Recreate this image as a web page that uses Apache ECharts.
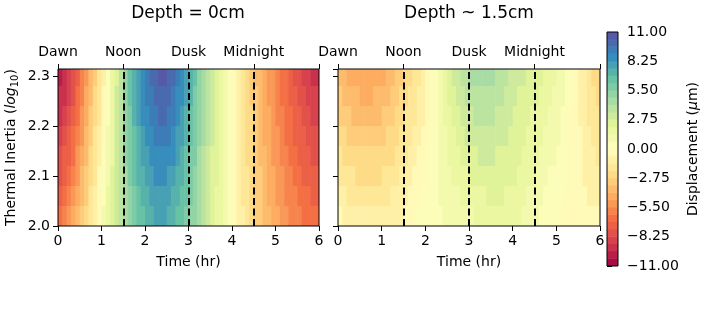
<!DOCTYPE html>
<html><head><meta charset="utf-8">
<script src="https://cdn.jsdelivr.net/npm/echarts@6/dist/echarts.min.js"></script>
<style>html,body{margin:0;padding:0;background:#fff}#c{width:717px;height:314px}</style>
</head><body><div id="c"></div>
<script>
// ---- data ----
const timeHr = [0.05,0.15,0.25,0.35,0.45,0.55,0.65,0.75,0.85,0.95,1.05,1.15,1.25,1.35,1.45,1.55,1.65,1.75,1.85,1.95,
  2.05,2.15,2.25,2.35,2.45,2.55,2.65,2.75,2.85,2.95,3.05,3.15,3.25,3.35,3.45,3.55,3.65,3.75,3.85,3.95,
  4.05,4.15,4.25,4.35,4.45,4.55,4.65,4.75,4.85,4.95,5.05,5.15,5.25,5.35,5.45,5.55,5.65,5.75,5.85,5.95];
const inertiaLog = [2.02,2.06,2.10,2.14,2.18,2.22,2.26,2.30];

// Depth = 0cm, displacement (um), one array per thermal-inertia row
const depth0_I202 = [-6.6,-6.0,-5.5,-4.8,-4.1,-3.3,-2.5,-1.7,-0.9,-0.1,0.8,1.6,2.4,3.2,3.9,4.6,5.3,5.9,6.4,6.8,7.1,7.4,7.6,7.6,7.6,7.4,7.1,6.8,6.4,5.9,5.4,4.9,4.3,3.8,3.2,2.6,2.0,1.4,0.8,0.2,-0.3,-0.8,-1.3,-1.8,-2.3,-2.8,-3.2,-3.7,-4.1,-4.5,-4.8,-5.1,-5.4,-5.7,-5.9,-6.1,-6.3,-6.5,-6.6,-6.7];
const depth0_I206 = [-7.1,-6.5,-6.0,-5.3,-4.5,-3.7,-2.9,-2.0,-1.2,-0.4,0.6,1.4,2.3,3.1,3.9,4.7,5.4,6.1,6.6,7.1,7.4,7.8,8.0,8.0,8.0,7.8,7.5,7.2,6.7,6.2,5.6,5.1,4.5,3.9,3.3,2.6,2.0,1.4,0.8,0.2,-0.3,-0.9,-1.4,-1.9,-2.4,-2.9,-3.3,-3.8,-4.2,-4.6,-5.0,-5.3,-5.6,-5.9,-6.1,-6.4,-6.6,-6.8,-6.9,-7.1];
const depth0_I210 = [-7.6,-7.0,-6.5,-5.7,-5.0,-4.1,-3.2,-2.4,-1.5,-0.6,0.3,1.2,2.1,3.1,3.9,4.8,5.6,6.3,6.9,7.4,7.8,8.1,8.4,8.4,8.4,8.2,7.9,7.5,7.1,6.5,5.9,5.3,4.6,4.0,3.3,2.7,2.1,1.4,0.8,0.2,-0.4,-0.9,-1.4,-2.0,-2.5,-3.0,-3.4,-4.0,-4.4,-4.8,-5.1,-5.5,-5.8,-6.1,-6.4,-6.6,-6.9,-7.1,-7.3,-7.4];
const depth0_I214 = [-8.1,-7.5,-7.0,-6.2,-5.4,-4.5,-3.6,-2.7,-1.8,-0.9,0.1,1.0,2.0,3.0,3.9,4.9,5.7,6.5,7.1,7.7,8.1,8.5,8.8,8.8,8.8,8.6,8.3,7.9,7.4,6.8,6.1,5.5,4.8,4.1,3.4,2.7,2.1,1.4,0.8,0.2,-0.4,-1.0,-1.5,-2.1,-2.6,-3.1,-3.5,-4.1,-4.5,-4.9,-5.3,-5.7,-6.0,-6.3,-6.6,-6.9,-7.2,-7.4,-7.6,-7.8];
const depth0_I218 = [-8.5,-8.0,-7.4,-6.7,-5.8,-4.9,-3.9,-3.0,-2.0,-1.1,-0.1,0.8,1.8,2.9,4.0,4.9,5.9,6.7,7.4,8.0,8.4,8.8,9.1,9.3,9.3,9.0,8.6,8.2,7.7,7.0,6.4,5.7,4.9,4.3,3.5,2.8,2.1,1.5,0.8,0.1,-0.5,-1.0,-1.6,-2.1,-2.6,-3.2,-3.7,-4.2,-4.7,-5.1,-5.5,-5.8,-6.2,-6.6,-6.9,-7.2,-7.4,-7.8,-8.0,-8.2];
const depth0_I222 = [-9.0,-8.5,-7.9,-7.2,-6.2,-5.3,-4.3,-3.3,-2.3,-1.4,-0.3,0.6,1.7,2.8,4.0,5.0,6.0,6.9,7.6,8.3,8.7,9.2,9.5,9.7,9.7,9.4,9.0,8.6,8.0,7.3,6.6,5.9,5.1,4.4,3.6,2.8,2.1,1.5,0.8,0.1,-0.5,-1.1,-1.7,-2.2,-2.7,-3.3,-3.8,-4.3,-4.8,-5.2,-5.7,-6.0,-6.4,-6.8,-7.1,-7.5,-7.7,-8.1,-8.3,-8.6];
const depth0_I226 = [-9.5,-9.0,-8.4,-7.6,-6.7,-5.7,-4.6,-3.7,-2.6,-1.6,-0.6,0.4,1.5,2.8,4.0,5.1,6.2,7.1,7.9,8.6,9.1,9.5,9.9,10.1,10.1,9.8,9.4,8.9,8.4,7.6,6.9,6.1,5.2,4.5,3.6,2.9,2.2,1.5,0.8,0.1,-0.6,-1.1,-1.7,-2.3,-2.8,-3.4,-3.9,-4.5,-5.0,-5.4,-5.8,-6.2,-6.6,-7.0,-7.4,-7.7,-8.0,-8.4,-8.7,-8.9];
const depth0_I230 = [-10.0,-9.5,-8.9,-8.1,-7.1,-6.1,-5.0,-4.0,-2.9,-1.9,-0.8,0.2,1.4,2.7,4.0,5.2,6.3,7.3,8.1,8.9,9.4,9.9,10.3,10.5,10.5,10.2,9.8,9.3,8.7,7.9,7.1,6.3,5.4,4.6,3.7,2.9,2.2,1.5,0.8,0.1,-0.6,-1.2,-1.8,-2.4,-2.9,-3.5,-4.0,-4.6,-5.1,-5.5,-6.0,-6.4,-6.8,-7.2,-7.6,-8.0,-8.3,-8.7,-9.0,-9.3];

// Depth ~ 1.5cm
const depth15_I202 = [-0.6,-0.8,-0.9,-1.0,-1.1,-1.2,-1.2,-1.2,-1.2,-1.2,-1.1,-1.0,-0.9,-0.8,-0.7,-0.5,-0.3,-0.1,0.0,0.2,0.3,0.4,0.5,0.6,0.7,0.8,0.9,1.0,1.1,1.2,1.3,1.4,1.5,1.6,1.7,1.7,1.8,1.8,1.8,1.8,1.7,1.5,1.3,1.1,0.9,0.7,0.5,0.4,0.2,0.1,0.0,-0.1,-0.2,-0.2,-0.3,-0.4,-0.4,-0.5,-0.6,-0.6];
const depth15_I206 = [-1.1,-1.3,-1.4,-1.5,-1.6,-1.7,-1.7,-1.7,-1.7,-1.7,-1.5,-1.4,-1.3,-1.2,-1.0,-0.8,-0.6,-0.4,-0.2,0.0,0.2,0.4,0.5,0.7,0.9,1.0,1.2,1.3,1.5,1.6,1.7,1.8,1.9,2.0,2.1,2.1,2.1,2.1,2.0,2.0,1.9,1.7,1.5,1.3,1.1,0.9,0.7,0.6,0.4,0.3,0.2,0.0,-0.1,-0.2,-0.3,-0.5,-0.5,-0.7,-0.8,-0.9];
const depth15_I210 = [-1.5,-1.7,-1.9,-2.0,-2.1,-2.2,-2.2,-2.2,-2.2,-2.1,-2.0,-1.8,-1.7,-1.5,-1.3,-1.1,-0.8,-0.6,-0.4,-0.1,0.1,0.3,0.5,0.8,1.0,1.3,1.5,1.7,1.9,2.0,2.2,2.3,2.4,2.4,2.5,2.4,2.4,2.4,2.3,2.2,2.1,1.9,1.7,1.5,1.4,1.2,1.0,0.9,0.6,0.5,0.3,0.2,0.0,-0.1,-0.3,-0.5,-0.7,-0.8,-1.0,-1.1];
const depth15_I214 = [-2.0,-2.2,-2.4,-2.5,-2.6,-2.7,-2.7,-2.7,-2.7,-2.6,-2.4,-2.2,-2.1,-1.9,-1.6,-1.4,-1.1,-0.9,-0.6,-0.3,0.0,0.3,0.5,0.9,1.2,1.5,1.8,2.0,2.3,2.4,2.6,2.7,2.8,2.8,2.9,2.8,2.7,2.7,2.5,2.4,2.3,2.1,1.9,1.7,1.6,1.4,1.2,1.1,0.8,0.7,0.5,0.3,0.1,-0.1,-0.3,-0.6,-0.8,-1.0,-1.2,-1.4];
const depth15_I218 = [-2.4,-2.7,-2.8,-3.0,-3.1,-3.2,-3.2,-3.2,-3.1,-3.0,-2.9,-2.7,-2.4,-2.2,-2.0,-1.7,-1.4,-1.1,-0.8,-0.5,-0.2,0.2,0.6,0.9,1.3,1.7,2.0,2.4,2.6,2.9,3.0,3.1,3.2,3.3,3.2,3.1,3.1,2.9,2.8,2.7,2.5,2.3,2.2,2.0,1.8,1.6,1.5,1.3,1.1,0.9,0.7,0.4,0.1,-0.1,-0.4,-0.6,-0.9,-1.2,-1.5,-1.7];
const depth15_I222 = [-2.9,-3.2,-3.3,-3.5,-3.6,-3.7,-3.7,-3.7,-3.6,-3.5,-3.3,-3.1,-2.8,-2.6,-2.3,-2.0,-1.7,-1.4,-1.0,-0.7,-0.3,0.2,0.6,1.0,1.5,1.9,2.3,2.7,3.0,3.3,3.4,3.5,3.6,3.7,3.6,3.5,3.4,3.2,3.0,2.9,2.7,2.5,2.4,2.2,2.0,1.8,1.7,1.5,1.3,1.1,0.9,0.5,0.2,-0.1,-0.4,-0.7,-1.0,-1.4,-1.7,-2.0];
const depth15_I226 = [-3.3,-3.6,-3.8,-4.0,-4.1,-4.2,-4.2,-4.2,-4.1,-3.9,-3.8,-3.5,-3.2,-2.9,-2.6,-2.3,-1.9,-1.6,-1.2,-0.8,-0.4,0.1,0.6,1.1,1.6,2.2,2.6,3.1,3.4,3.7,3.9,4.0,4.1,4.1,4.0,3.8,3.7,3.5,3.3,3.1,2.9,2.7,2.6,2.4,2.3,2.1,2.0,1.8,1.5,1.3,1.0,0.7,0.3,0.0,-0.4,-0.7,-1.2,-1.5,-1.9,-2.2];
const depth15_I230 = [-3.8,-4.1,-4.3,-4.5,-4.6,-4.7,-4.7,-4.7,-4.6,-4.4,-4.2,-3.9,-3.6,-3.3,-2.9,-2.6,-2.2,-1.9,-1.4,-1.0,-0.5,0.1,0.6,1.2,1.8,2.4,2.9,3.4,3.8,4.1,4.3,4.4,4.5,4.5,4.4,4.2,4.0,3.8,3.5,3.3,3.1,2.9,2.8,2.6,2.5,2.3,2.2,2.0,1.7,1.5,1.2,0.8,0.4,0.0,-0.4,-0.8,-1.3,-1.7,-2.1,-2.5];

const depth0Rows = [depth0_I202,depth0_I206,depth0_I210,depth0_I214,depth0_I218,depth0_I222,depth0_I226,depth0_I230];
const depth15Rows = [depth15_I202,depth15_I206,depth15_I210,depth15_I214,depth15_I218,depth15_I222,depth15_I226,depth15_I230];

const levelMin = -11, levelMax = 11, bandCount = 32;
const timeTicks = [0,1.5,3,4.5,6];
const timeNamesLeft = ['Dawn','Noon','Dusk','Midnight',''];
const timeNamesRight = ['Dawn','Noon','Dusk','Midnight',''];
const markerTimes = [1.5,3,4.5];
const panelTitles = ['Depth = 0cm','Depth ~ 1.5cm'];

// ---- style / helpers ----
const SPECTRAL = ['#9e0142','#d53e4f','#f46d43','#fdae61','#fee08b','#ffffbf','#e6f598','#abdda4','#66c2a5','#3288bd','#5e4fa2'];
function hex2rgb(h){return [parseInt(h.slice(1,3),16),parseInt(h.slice(3,5),16),parseInt(h.slice(5,7),16)];}
function spectral(x){
  const p = Math.max(0,Math.min(1,x))*10; const i = Math.min(9,Math.floor(p)); const f = p-i;
  const a = hex2rgb(SPECTRAL[i]), b = hex2rgb(SPECTRAL[i+1]);
  return 'rgb('+a.map((v,k)=>Math.round(v+(b[k]-v)*f)).join(',')+')';
}
const step = (levelMax-levelMin)/bandCount;
const levelEdges = []; for (let k=0;k<=bandCount;k++) levelEdges.push(levelMin+k*step);
const pieces = [];
for (let k=0;k<bandCount;k++){
  const p = {gte: levelEdges[k], color: spectral((k+0.5)/bandCount)};
  if (k===bandCount-1) p.lte = levelEdges[k+1]; else p.lt = levelEdges[k+1];
  pieces.push(p);
}
function gridData(rows){
  const d=[]; rows.forEach((row,r)=>row.forEach((v,c)=>d.push([timeHr[c], inertiaLog[r], v]))); return d;
}
const dT = timeHr[1]-timeHr[0], dI = inertiaLog[1]-inertiaLog[0];
function cellRender(params, api){
  const cs = params.coordSys;
  const t = api.value(0), I = api.value(1);
  const p0 = api.coord([t-dT/2, I+dI/2]), p1 = api.coord([t+dT/2, I-dI/2]);
  const x0 = Math.max(cs.x, p0[0]), x1 = Math.min(cs.x+cs.width, p1[0]+0.6);
  const y0 = Math.max(cs.y, p0[1]-0.6), y1 = Math.min(cs.y+cs.height, p1[1]);
  return {type:'rect', shape:{x:x0,y:y0,width:x1-x0,height:y1-y0}, style:{fill:api.visual('color')}};
}
function barRender(params, api){
  const cs = params.coordSys;
  const lo = api.value(0), hi = api.value(1);
  const a = api.coord([0, hi]), b = api.coord([1, lo]);
  const y0 = Math.max(cs.y, a[1]-0.5), y1 = Math.min(cs.y+cs.height, b[1]);
  return {type:'rect', shape:{x:cs.x,y:y0,width:cs.width,height:y1-y0}, style:{fill:api.visual('color')}};
}
const colorbarData = []; for (let k=0;k<bandCount;k++) colorbarData.push([levelEdges[k], levelEdges[k+1], (levelEdges[k]+levelEdges[k+1])/2]);

const FONT = 'DejaVu Sans';
const tickStyle = {show:true, length:5, inside:false, lineStyle:{color:'#000', width:1}};
const lbl = {color:'#000', fontFamily:FONT, fontSize:14};
function bottomX(gi){ return {gridIndex:gi, type:'value', position:'bottom', min:0, max:6, interval:1,
  axisLine:{show:false}, axisTick:tickStyle, splitLine:{show:false},
  axisLabel:Object.assign({margin:8, formatter:v=>String(v)}, lbl),
  name:'Time (hr)', nameLocation:'middle', nameGap:29, nameTextStyle:{color:'#000', fontFamily:FONT, fontSize:14}}; }
function topX(gi, names){ return {gridIndex:gi, type:'value', position:'top', min:0, max:6, interval:1.5,
  axisLine:{show:false}, axisTick:tickStyle, splitLine:{show:false},
  axisLabel:Object.assign({margin:10, formatter:v=>{const i=timeTicks.indexOf(v); return i>=0?names[i]:'';}}, lbl)}; }
function leftY(gi, showLabels){ return {gridIndex:gi, type:'value', position:'left', min:2.0, max:2.314, interval:0.1,
  axisLine:{show:false}, axisTick:tickStyle, splitLine:{show:false}, showMaxLabel:false,
  axisLabel:Object.assign({show:showLabels, margin:8, showMaxLabel:false, formatter:v=>v.toFixed(1)}, lbl),
  name: showLabels ? 'Thermal Inertia ({i|log}{s|10})' : '', nameLocation:'middle', nameGap:38,
  nameTextStyle:{color:'#000', fontFamily:FONT, fontSize:14, lineHeight:18,
    rich:{i:{fontStyle:'italic', fontFamily:FONT, fontSize:14, color:'#000', lineHeight:18},
          s:{fontFamily:FONT, fontSize:10, color:'#000', lineHeight:10, verticalAlign:'bottom'}}}}; }

const seriesMark = {symbol:['none','none'], silent:true, animation:false, label:{show:false},
  lineStyle:{color:'#000', width:2, type:[7,3.5]}, emphasis:{disabled:true},
  data: markerTimes.map(t=>({xAxis:t}))};

const option = {
  animation:false,
  backgroundColor:'#fff',
  title: [
    {text:panelTitles[0], left:188, top:5, textAlign:'center', padding:0, textStyle:{fontFamily:FONT, fontSize:17, fontWeight:'normal', color:'#000'}},
    {text:panelTitles[1], left:469, top:5, textAlign:'center', padding:0, textStyle:{fontFamily:FONT, fontSize:17, fontWeight:'normal', color:'#000'}}
  ],
  grid: [
    {left:58, top:69, width:261, height:157, show:true, borderColor:'#000', borderWidth:1, backgroundColor:'rgba(0,0,0,0)', z:10},
    {left:338, top:69, width:262, height:157, show:true, borderColor:'#000', borderWidth:1, backgroundColor:'rgba(0,0,0,0)', z:10},
    {left:607, top:32, width:11, height:234, show:true, borderColor:'#000', borderWidth:1, backgroundColor:'rgba(0,0,0,0)', z:10}
  ],
  xAxis: [ bottomX(0), topX(0, timeNamesLeft), bottomX(1), topX(1, timeNamesRight),
    {gridIndex:2, type:'value', min:0, max:1, show:false} ],
  yAxis: [ leftY(0,true), leftY(1,false),
    {gridIndex:2, type:'value', position:'right', min:levelMin, max:levelMax, interval:2.75,
     axisLine:{show:false}, axisTick:tickStyle, splitLine:{show:false},
     axisLabel:Object.assign({margin:9, formatter:v=>v.toFixed(2).replace('-','\u2212')}, lbl),
     name:'Displacement ({m|\u03bc}m)', nameLocation:'middle', nameGap:68,
     nameTextStyle:{color:'#000', fontFamily:FONT, fontSize:14, rich:{m:{fontStyle:'italic', fontFamily:FONT, fontSize:14, color:'#000'}}}} ],
  visualMap: {type:'piecewise', show:false, dimension:2, seriesIndex:[0,1,2], pieces: pieces},
  series: [
    {type:'custom', name:'depth0', xAxisIndex:0, yAxisIndex:0, renderItem:cellRender, data:gridData(depth0Rows), z:2, markLine:seriesMark},
    {type:'custom', name:'depth15', xAxisIndex:2, yAxisIndex:1, renderItem:cellRender, data:gridData(depth15Rows), z:2, markLine:seriesMark},
    {type:'custom', name:'colorbar', xAxisIndex:4, yAxisIndex:2, renderItem:barRender, data:colorbarData, z:2}
  ]
};
const chart = echarts.init(document.getElementById('c'), null, {renderer:'canvas'});
chart.setOption(option);
</script></body></html>
